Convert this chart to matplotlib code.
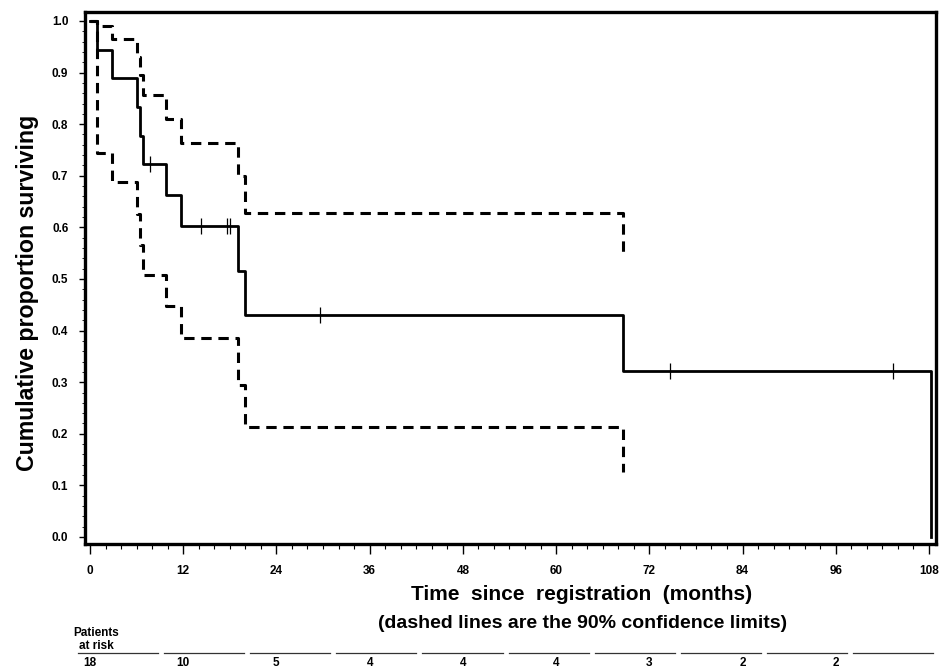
import numpy as np
import matplotlib
matplotlib.use("Agg")
import matplotlib.pyplot as plt
from matplotlib.lines import Line2D
from matplotlib.ticker import MultipleLocator

# ---------------- data ----------------
event_times = [0.86, 2.8, 6.0, 6.45, 6.8, 9.75, 11.7, 19.1, 20.0, 68.6, 108.2]
survival = [0.944, 0.889, 0.833, 0.778, 0.722, 0.663, 0.602, 0.516, 0.430, 0.3225, 0.0]

ci_times = [0.86, 2.8, 6.0, 6.45, 6.8, 9.75, 11.7, 19.1, 20.0, 68.6]
ci_upper = [0.99, 0.965, 0.93, 0.895, 0.857, 0.811, 0.763, 0.70, 0.628, 0.54]
ci_lower = [0.745, 0.687, 0.625, 0.565, 0.508, 0.447, 0.385, 0.295, 0.214, 0.125]

censor_times = [7.7, 14.3, 17.7, 18.0, 29.6, 74.6, 103.4]

risk_times = [0, 12, 24, 36, 48, 60, 72, 84, 96]
at_risk = [18, 10, 5, 4, 4, 4, 3, 2, 2]

x_ticks = [0, 12, 24, 36, 48, 60, 72, 84, 96, 108]
y_ticks = [0.0, 0.1, 0.2, 0.3, 0.4, 0.5, 0.6, 0.7, 0.8, 0.9, 1.0]

# ---------------- figure ----------------
plt.rcParams['font.family'] = ['Liberation Sans', 'DejaVu Sans']
W, H = 942, 669
fig = plt.figure(figsize=(W / 100, H / 100), dpi=100)
ax = fig.add_axes([85 / W, 1 - 544 / H, (936 - 85) / W, (544 - 12) / H])

t_km = [0.0] + event_times
s_km = [1.0] + survival
ax.plot(t_km, s_km, drawstyle='steps-post', color='black', lw=2.0)

t_ci = [0.0] + ci_times
ax.plot(t_ci, [1.0] + ci_upper, drawstyle='steps-post', color='black', lw=2.2,
        dashes=(3.4, 2.2))
ax.plot(t_ci, [1.0] + ci_lower, drawstyle='steps-post', color='black', lw=2.2,
        dashes=(3.4, 2.2))

# censor marks on the step function
idx = np.searchsorted(np.array(t_km), np.array(censor_times), side='right') - 1
censor_y = np.array(s_km)[idx]
ax.plot(censor_times, censor_y, linestyle='none', marker='|', markersize=12,
        markeredgewidth=0.9, color='black')

ax.set_xlim(-0.64, 108.9)
ax.set_ylim(-0.0136, 1.0174)
ax.set_xticks(x_ticks)
ax.set_yticks(y_ticks)
ax.set_yticklabels([f"{v:.1f}" for v in y_ticks])
ax.xaxis.set_minor_locator(MultipleLocator(2))
ax.yaxis.set_minor_locator(MultipleLocator(0.02))

for sp in ax.spines.values():
    sp.set_linewidth(2.4)
ax.tick_params(axis='x', which='major', direction='out', length=7, width=1.0,
               pad=8, labelsize=8.5)
ax.tick_params(axis='x', which='minor', direction='out', length=3.5, width=0.8)
ax.tick_params(axis='y', which='major', direction='out', length=4, width=1.0,
               pad=8, labelsize=8.5)
ax.tick_params(axis='y', which='minor', direction='out', length=2, width=0.6)
for lab in ax.get_xticklabels() + ax.get_yticklabels():
    lab.set_fontweight('bold')

# axis titles
fig.text(582 / W, 1 - 600 / H, "Time  since  registration  (months)",
         ha='center', va='baseline', fontsize=15, fontweight='bold')
fig.text(583 / W, 1 - 628 / H, "(dashed lines are the 90% confidence limits)",
         ha='center', va='baseline', fontsize=14, fontweight='bold')
fig.text(28 / W, 1 - 293 / H, "Cumulative proportion surviving",
         ha='center', va='center', rotation=90, fontsize=16.7, fontweight='bold')

# patients at risk table
fig.text(96 / W, 1 - 636 / H, "Patients", ha='center', va='baseline',
         fontsize=8.5, fontweight='bold')
fig.text(96 / W, 1 - 649 / H, "at risk", ha='center', va='baseline',
         fontsize=8.5, fontweight='bold')

seg_left, seg_right, nseg, gap = 78, 933, 10, 6
period = (seg_right - seg_left + gap) / nseg
for i in range(nseg):
    x0 = seg_left + i * period
    x1 = x0 + period - gap
    fig.add_artist(Line2D([x0 / W, x1 / W], [1 - 653 / H, 1 - 653 / H],
                          transform=fig.transFigure, color='#333333', lw=0.9))

trans = matplotlib.transforms.blended_transform_factory(ax.transData, fig.transFigure)
for t, n in zip(risk_times, at_risk):
    ax.text(t, 1 - 663 / H, str(n), transform=trans, ha='center', va='center',
            fontsize=8.5, fontweight='bold', clip_on=False)

fig.savefig("out.png", dpi=100)
